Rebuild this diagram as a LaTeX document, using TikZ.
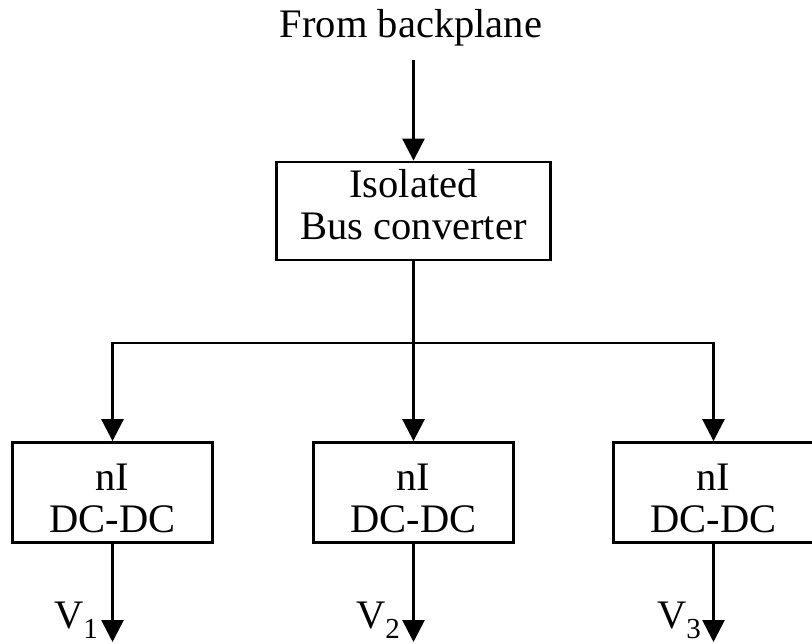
\documentclass[tikz,border=0pt]{standalone}
\usepackage{fontspec}
\setmainfont{Liberation Serif}
\usetikzlibrary{arrows.meta}
\begin{document}
\begin{tikzpicture}[x=1pt,y=-1pt,
  blk/.style={draw,line width=2.8pt,minimum width=200pt,minimum height=100pt,inner sep=0pt},
  txt/.style={anchor=base,inner sep=0pt,font=\fontsize{40.5}{42}\selectfont},
  vlab/.style={anchor=base east,inner sep=0pt,font=\fontsize{40.5}{42}\selectfont},
  wire/.style={line width=2.8pt},
  arr/.style={wire,-{Triangle[length=22pt,width=22pt]}}]
\useasboundingbox (0,0) rectangle (812,644);
% input
\node[txt] (src) at (411,38) {From backplane};
\coordinate (in) at (413.5,60);
% bus converter
\node[blk,minimum width=274pt,minimum height=98pt] (bus) at (413.5,211) {};
\node[txt] (busA) at (413.5,198) {Isolated};
\node[txt] (busB) at (413.5,240) {Bus converter};
\draw[arr] (in) -- (bus.north);
% converters
\node[blk] (c1) at (112.5,492.5) {};
\node[blk] (c2) at (413.5,492.5) {};
\node[blk] (c3) at (713.5,492.5) {};
\node[txt] (c1a) at (112.5,490) {nI};
\node[txt] (c1b) at (112.5,532) {DC-DC};
\node[txt] (c2a) at (413.5,490) {nI};
\node[txt] (c2b) at (413.5,532) {DC-DC};
\node[txt] (c3a) at (713.5,490) {nI};
\node[txt] (c3b) at (713.5,532) {DC-DC};
% distribution
\coordinate (j) at (413.5,343);
\draw[wire] (bus.south) -- (j);
\draw[arr] (j) -- (c2.north);
\draw[arr] (j) -| (c1.north);
\draw[arr] (j) -| (c3.north);
% outputs
\coordinate (o1) at (112.5,642);
\coordinate (o2) at (413.5,642);
\coordinate (o3) at (713.5,642);
\draw[arr] (c1.south) -- (o1);
\draw[arr] (c2.south) -- (o2);
\draw[arr] (c3.south) -- (o3);
\node[vlab] (v1) at (98,628) {V\raisebox{-10pt}{\fontsize{29}{29}\selectfont 1}};
\node[vlab] (v2) at (400,628) {V\raisebox{-10pt}{\fontsize{29}{29}\selectfont 2}};
\node[vlab] (v3) at (701,628) {V\raisebox{-10pt}{\fontsize{29}{29}\selectfont 3}};
\end{tikzpicture}
\end{document}
